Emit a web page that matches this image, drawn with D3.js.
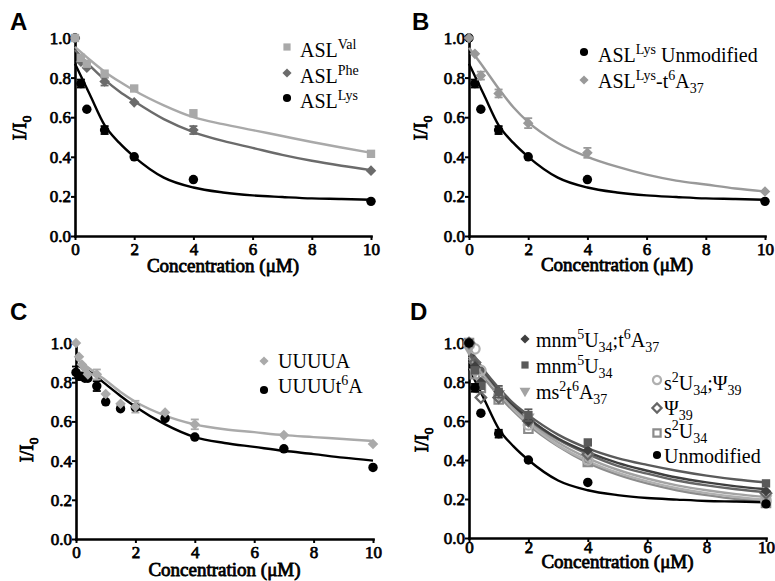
<!DOCTYPE html>
<html>
<head>
<meta charset="utf-8">
<script src="https://cdn.jsdelivr.net/npm/d3@7"></script>
<style>
body { margin: 0; background: #fff; }
svg { display: block; }
.axis text { font-family: "Liberation Serif", "Times New Roman", serif; font-weight: normal; font-size: 17px; fill: #000; stroke: #000; stroke-width: 0.75px; }
</style>
</head>
<body>
<div id="chart"></div>
<script>
// x values (uM)
var concASL = [0, 0.2, 0.4, 1, 2, 4, 10];
var concC = [0, 0.1, 0.2, 0.3, 0.4, 0.7, 1, 1.5, 2, 3, 4, 7, 10];
var fitConc = [0, 0.5, 1, 1.5, 2, 3, 4, 5, 6, 7, 8, 9, 10];
var xTicks = [0, 2, 4, 6, 8, 10];
var yTicks = [0, 0.2, 0.4, 0.6, 0.8, 1.0];

// panel A / B
var lysVals = [1.0, 0.77, 0.64, 0.535, 0.40, 0.285, 0.175];
var lysErr  = [0, 0.02, 0, 0.02, 0, 0, 0];
var lysFit  = [0.87, 0.715, 0.56, 0.47, 0.40, 0.295, 0.245, 0.22, 0.205, 0.197, 0.19, 0.187, 0.183];
var valVals = [1.0, 0.90, 0.87, 0.82, 0.745, 0.62, 0.415];
var valErr  = [0, 0, 0, 0, 0, 0, 0];
var valFit  = [0.955, 0.89, 0.83, 0.78, 0.735, 0.66, 0.60, 0.565, 0.535, 0.505, 0.475, 0.447, 0.42];
var pheVals = [1.0, 0.88, 0.85, 0.78, 0.675, 0.535, 0.33];
var pheErr  = [0, 0, 0, 0.02, 0, 0.02, 0];
var pheFit  = [0.94, 0.86, 0.79, 0.73, 0.68, 0.59, 0.525, 0.48, 0.445, 0.41, 0.38, 0.355, 0.333];
var t6aVals = [1.0, 0.92, 0.81, 0.72, 0.57, 0.42, 0.225];
var t6aErr  = [0, 0, 0.02, 0.02, 0.025, 0.025, 0];
var t6aFit  = [0.95, 0.85, 0.745, 0.65, 0.575, 0.47, 0.40, 0.35, 0.31, 0.28, 0.26, 0.24, 0.225];

// panel C
var uuuuaVals = [1.0, 0.93, 0.89, 0.87, 0.84, 0.84, 0.74, 0.69, 0.675, 0.645, 0.585, 0.53, 0.485];
var uuuuaErr  = [0, 0, 0, 0, 0, 0.025, 0, 0, 0.03, 0, 0.025, 0, 0];
var uuuuaFit  = [0.92, 0.865, 0.81, 0.75, 0.70, 0.63, 0.585, 0.56, 0.545, 0.53, 0.52, 0.51, 0.50];
var uuuutVals = [0.85, 0.83, 0.83, 0.82, 0.82, 0.78, 0.70, 0.665, 0.67, 0.615, 0.52, 0.46, 0.365];
var uuuutErr  = [0.03, 0, 0, 0, 0, 0.025, 0, 0, 0, 0, 0, 0, 0];
var uuuutFit  = [0.89, 0.85, 0.79, 0.73, 0.675, 0.585, 0.52, 0.49, 0.47, 0.45, 0.433, 0.415, 0.40];

// panel D
var mnmT6aVals = [1.0, 0.88, 0.80, 0.75, 0.60, 0.45, 0.24];
var mnmT6aFit  = [0.97, 0.86, 0.76, 0.68, 0.615, 0.51, 0.44, 0.385, 0.345, 0.31, 0.285, 0.265, 0.25];
var mnmVals    = [1.0, 0.86, 0.78, 0.75, 0.63, 0.49, 0.28];
var mnmErr     = [0, 0, 0, 0.03, 0.03, 0, 0];
var mnmFit     = [0.95, 0.86, 0.77, 0.69, 0.63, 0.53, 0.46, 0.41, 0.375, 0.345, 0.32, 0.30, 0.285];
var ms2Vals    = [0.97, 0.85, 0.80, 0.74, 0.62, 0.42, 0.20];
var ms2Fit     = [0.93, 0.84, 0.75, 0.67, 0.60, 0.49, 0.41, 0.35, 0.305, 0.27, 0.245, 0.225, 0.21];
var s2PsiVals  = [1.0, 0.97, 0.86, 0.73, 0.58, 0.40, 0.19];
var s2PsiFit   = [0.98, 0.86, 0.75, 0.66, 0.59, 0.475, 0.395, 0.335, 0.29, 0.255, 0.23, 0.21, 0.195];
var psiVals    = [1.0, 0.90, 0.72, 0.72, 0.60, 0.43, 0.23];
var psiFit     = [0.94, 0.85, 0.76, 0.68, 0.61, 0.505, 0.43, 0.37, 0.33, 0.295, 0.27, 0.25, 0.235];
var s2Vals     = [1.0, 0.84, 0.77, 0.71, 0.56, 0.39, 0.18];
var s2Fit      = [0.92, 0.82, 0.73, 0.65, 0.58, 0.47, 0.385, 0.325, 0.28, 0.245, 0.22, 0.20, 0.19];
var noErr      = [0, 0, 0, 0, 0, 0, 0];

// legend labels: [text, 0 normal | 1 sup | -1 sub]
var lblVal = [["ASL", 0], ["Val", 1]];
var lblPhe = [["ASL", 0], ["Phe", 1]];
var lblLys = [["ASL", 0], ["Lys", 1]];
var lblLysUnmod = [["ASL", 0], ["Lys", 1], [" Unmodified", 0]];
var lblLysT6a = [["ASL", 0], ["Lys", 1], ["-t", 0], ["6", 1], ["A", 0], ["37", -1]];
var lblUUUUA = [["UUUUA", 0]];
var lblUUUUt = [["UUUUt", 0], ["6", 1], ["A", 0]];
var lblMnmT6a = [["mnm", 0], ["5", 1], ["U", 0], ["34", -1], [";t", 0], ["6", 1], ["A", 0], ["37", -1]];
var lblMnm = [["mnm", 0], ["5", 1], ["U", 0], ["34", -1]];
var lblMs2 = [["ms", 0], ["2", 1], ["t", 0], ["6", 1], ["A", 0], ["37", -1]];
var lblS2Psi = [["s", 0], ["2", 1], ["U", 0], ["34", -1], [";\u03a8", 0], ["39", -1]];
var lblPsi = [["\u03a8", 0], ["39", -1]];
var lblS2 = [["s", 0], ["2", 1], ["U", 0], ["34", -1]];
var lblUnmod = [["Unmodified", 0]];

var serif = "'Liberation Serif', 'Times New Roman', serif";

var svg = d3.select("#chart").append("svg")
    .attr("width", 775)
    .attr("height", 581)

function series(conc, vals, err, fit, color, shape, open){
    return { conc: conc, vals: vals, err: err, fit: fit, color: color, shape: shape, open: open }
}

function symbolPath(shape, size){
    if (shape == "square" || shape == "diamond") return d3.symbol().type(d3.symbolSquare).size(size)()
    if (shape == "triangle") return d3.symbol().type(d3.symbolTriangle).size(size)()
    return d3.symbol().type(d3.symbolCircle).size(size)()
}

function drawMarker(g, s, cx, cy, size){
    var rot = s.shape == "diamond" ? 45 : (s.shape == "triangle" ? 180 : 0)
    g.append("path")
        .attr("d", symbolPath(s.shape, size))
        .attr("transform", "translate(" + cx + "," + cy + ") rotate(" + rot + ")")
        .attr("fill", s.open ? "none" : s.color)
        .attr("stroke", s.open ? s.color : "none")
        .attr("stroke-width", 2.2)
}

// bold serif is faked with a thin stroke (no bold face for the serif family here)
function richText(g, x, y, segs, size, bold){
    var text = g.append("text")
        .attr("x", x)
        .attr("y", y)
        .attr("font-family", serif)
        .attr("font-size", size)
        .attr("fill", "#000")
    if (bold) text.attr("stroke", "#000").attr("stroke-width", 0.8)
    var shift = 0
    segs.forEach(function(s){
        var target = s[1] == 1 ? -0.38 * size : (s[1] == -1 ? 0.27 * size : 0)
        text.append("tspan")
            .attr("dy", target - shift)
            .attr("font-size", s[1] ? size * 0.7 : size)
            .text(s[0])
        shift = target
    })
    return text
}

function drawPanel(cfg){
    var x = d3.scaleLinear().domain([0, 10]).range([cfg.left, cfg.right])
    var y = d3.scaleLinear().domain([0, 1]).range([cfg.bottom, cfg.top])
    var g = svg.append("g")

    g.append("g")
        .attr("class", "axis")
        .attr("transform", "translate(0," + cfg.bottom + ")")
        .call(d3.axisBottom(x).tickValues(xTicks).tickSize(4).tickSizeOuter(0).tickPadding(cfg.xPad))
    g.append("g")
        .attr("class", "axis")
        .attr("transform", "translate(" + cfg.left + ",0)")
        .call(d3.axisLeft(y).tickValues(yTicks).tickFormat(d3.format(".1f")).tickSize(4).tickSizeOuter(0).tickPadding(0))
    g.selectAll(".axis path").attr("stroke-width", 2.6).attr("stroke-linecap", "square")
    g.selectAll(".axis line").attr("stroke-width", 2)

    var line = d3.line()
        .x(function(d){ return x(d[0]) })
        .y(function(d){ return y(d[1]) })
        .curve(d3.curveMonotoneX)

    cfg.series.forEach(function(s){
        g.append("path")
            .datum(fitConc.map(function(c, i){ return [c, s.fit[i]] }))
            .attr("d", line)
            .attr("fill", "none")
            .attr("stroke", s.color)
            .attr("stroke-width", 2.4)
    })

    cfg.series.forEach(function(s){
        s.conc.forEach(function(c, i){
            var e = s.err[i]
            if (e > 0){
                var eb = g.append("g").attr("stroke", s.color).attr("stroke-width", 1.8)
                eb.append("line").attr("x1", x(c)).attr("x2", x(c)).attr("y1", y(s.vals[i] - e)).attr("y2", y(s.vals[i] + e))
                eb.append("line").attr("x1", x(c) - 4).attr("x2", x(c) + 4).attr("y1", y(s.vals[i] - e)).attr("y2", y(s.vals[i] - e))
                eb.append("line").attr("x1", x(c) - 4).attr("x2", x(c) + 4).attr("y1", y(s.vals[i] + e)).attr("y2", y(s.vals[i] + e))
            }
            drawMarker(g, s, x(c), y(s.vals[i]), s.shape == "diamond" ? 56 : 70)
        })
    })

    cfg.legend.forEach(function(r){
        drawMarker(g, r.s, r.mx, r.my, r.s.shape == "diamond" ? 42 : 52)
        richText(g, r.tx, r.ty, r.label, 20)
    })

    g.append("text")
        .attr("x", cfg.letter[0])
        .attr("y", cfg.letter[1])
        .attr("font-family", "'Liberation Sans', Arial, sans-serif")
        .attr("font-weight", "bold")
        .attr("font-size", 24)
        .text(cfg.name)

    richText(g, (cfg.left + cfg.right) / 2, cfg.titleY, [["Concentration (\u03bcM)", 0]], 19, true)
        .attr("text-anchor", "middle")

    var yl = g.append("g")
        .attr("transform", "translate(" + cfg.yLabel[0] + "," + cfg.yLabel[1] + ") rotate(-90)")
    richText(yl, 0, 0, [["I/I", 0], ["0", -1]], 19, true).attr("text-anchor", "middle")
}

var sVal = series(concASL, valVals, valErr, valFit, "#a9a9a9", "square", false)
var sPhe = series(concASL, pheVals, pheErr, pheFit, "#6b6b6b", "diamond", false)
var sLys = series(concASL, lysVals, lysErr, lysFit, "#000", "circle", false)
var sT6a = series(concASL, t6aVals, t6aErr, t6aFit, "#999", "diamond", false)
var sUA = series(concC, uuuuaVals, uuuuaErr, uuuuaFit, "#aaa", "diamond", false)
var sUt = series(concC, uuuutVals, uuuutErr, uuuutFit, "#000", "circle", false)
var sMnmT = series(concASL, mnmT6aVals, noErr, mnmT6aFit, "#3f3f3f", "diamond", false)
var sMnm = series(concASL, mnmVals, mnmErr, mnmFit, "#5a5a5a", "square", false)
var sMs2 = series(concASL, ms2Vals, noErr, ms2Fit, "#a3a3a3", "triangle", false)
var sS2Psi = series(concASL, s2PsiVals, noErr, s2PsiFit, "#b0b0b0", "circle", true)
var sPsi = series(concASL, psiVals, noErr, psiFit, "#666", "diamond", true)
var sS2 = series(concASL, s2Vals, noErr, s2Fit, "#8c8c8c", "square", true)

drawPanel({
    name: "A", left: 75, right: 371, top: 38, bottom: 236, xPad: 3,
    letter: [10, 30], titleY: 272, yLabel: [26, 128],
    series: [sLys, sPhe, sVal],
    legend: [
        { s: sVal, mx: 287, my: 47, tx: 300, ty: 57, label: lblVal },
        { s: sPhe, mx: 287, my: 73, tx: 300, ty: 83, label: lblPhe },
        { s: sLys, mx: 287, my: 98, tx: 300, ty: 108, label: lblLys }
    ]
})

drawPanel({
    name: "B", left: 469, right: 765, top: 38, bottom: 236, xPad: 3,
    letter: [412, 30], titleY: 271, yLabel: [427, 128],
    series: [sLys, sT6a],
    legend: [
        { s: sLys, mx: 584, my: 52, tx: 598, ty: 62, label: lblLysUnmod },
        { s: sT6a, mx: 584, my: 80, tx: 598, ty: 88, label: lblLysT6a }
    ]
})

drawPanel({
    name: "C", left: 76, right: 373, top: 343, bottom: 539, xPad: 3,
    letter: [10, 320], titleY: 576, yLabel: [33, 450],
    series: [sUt, sUA],
    legend: [
        { s: sUA, mx: 264, my: 361, tx: 278, ty: 368, label: lblUUUUA },
        { s: sUt, mx: 264, my: 390, tx: 278, ty: 393, label: lblUUUUt }
    ]
})

drawPanel({
    name: "D", left: 469, right: 766, top: 343, bottom: 538, xPad: -1,
    letter: [410, 320], titleY: 568, yLabel: [428, 440],
    series: [sS2, sS2Psi, sMs2, sPsi, sMnmT, sMnm, sLys],
    legend: [
        { s: sMnmT, mx: 525, my: 339, tx: 536, ty: 347, label: lblMnmT6a },
        { s: sMnm, mx: 525, my: 365, tx: 536, ty: 373, label: lblMnm },
        { s: sMs2, mx: 525, my: 391, tx: 536, ty: 399, label: lblMs2 },
        { s: sS2Psi, mx: 657, my: 380, tx: 664, ty: 390, label: lblS2Psi },
        { s: sPsi, mx: 657, my: 408, tx: 664, ty: 415, label: lblPsi },
        { s: sS2, mx: 657, my: 433, tx: 664, ty: 438, label: lblS2 },
        { s: sLys, mx: 657, my: 455, tx: 664, ty: 463, label: lblUnmod }
    ]
})
</script>
</body>
</html>
